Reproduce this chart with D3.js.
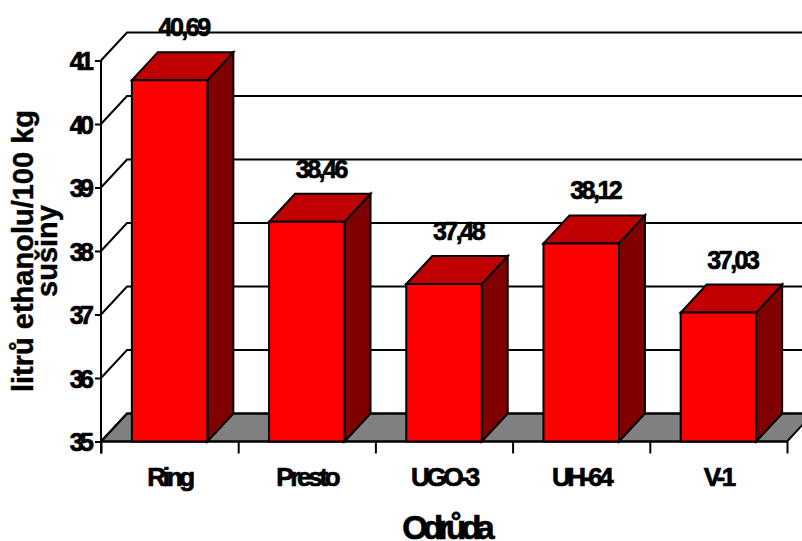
<!DOCTYPE html>
<html>
<head>
<meta charset="utf-8">
<script src="https://cdn.jsdelivr.net/npm/d3@7/dist/d3.min.js"></script>
<style>
html, body { margin: 0; padding: 0; background: #fff; }
svg { display: block; }
text { font-family: "Liberation Sans", Arial, sans-serif; font-weight: bold; fill: #000; }
</style>
</head>
<body>
<svg id="chart" width="802" height="541"></svg>
<script>
const categories = ["Ring", "Presto", "UGO-3", "UH-64", "V-1"];
const values = [40.69, 38.46, 37.48, 38.12, 37.03];
const valueTicks = [35, 36, 37, 38, 39, 40, 41];
const valueLabels = ["40,69", "38,46", "37,48", "38,12", "37,03"];

const left = 101, right = 787, bottom = 441.5, top41 = 60.5;
const depthX = 26, depthY = -28;
const heavy = 0.7;

const svg = d3.select("#chart");
const x = d3.scaleBand().domain(categories).range([left, right]).paddingInner(0.45).paddingOuter(0.225);
const y = d3.scaleLinear().domain([35, 41]).range([bottom, top41]);

const poly = pts => pts.map(p => p.join(",")).join(" ");

// Floor of the 3D plot box
svg.append("polygon")
  .attr("points", poly([[left, bottom], [right, bottom], [right + depthX, bottom + depthY], [left + depthX, bottom + depthY]]))
  .attr("fill", "#808080").attr("stroke", "#000").attr("stroke-width", 2);

// Gridlines: a diagonal on the side wall and a horizontal on the back wall
const grid = svg.append("g").attr("fill", "none").attr("stroke", "#000").attr("stroke-width", 2);
valueTicks.forEach(t => {
  grid.append("polyline")
    .attr("points", poly([[left, y(t)], [left + depthX, y(t) + depthY], [right + depthX, y(t) + depthY]]));
});

// Axes
const yAxis = d3.axisLeft(y).tickValues(valueTicks).tickSize(6).tickPadding(0).tickFormat(d3.format("d"));
const xAxis = d3.axisBottom(d3.scalePoint().domain(d3.range(6)).range([left, right])).tickSize(12).tickFormat("");

const gy = svg.append("g").attr("transform", `translate(${left},0)`).call(yAxis);
gy.selectAll("path, line").attr("stroke", "#000").attr("stroke-width", 2);
gy.select(".domain").attr("d", `M0,${top41}V${bottom + 12}`);
gy.selectAll("text")
  .attr("x", -10.5).attr("dy", "0.36em")
  .attr("font-size", 25).attr("letter-spacing", -3.5)
  .attr("font-family", "Liberation Sans").attr("font-weight", "bold")
  .attr("stroke", "#000").attr("stroke-width", heavy);

const gx = svg.append("g").attr("transform", `translate(0,${bottom})`).call(xAxis);
gx.selectAll("path, line").attr("stroke", "#000").attr("stroke-width", 2);
gx.select(".domain").attr("d", `M${left},0H${right}`);

// Category labels under the axis
svg.append("g").selectAll("text").data(categories).join("text")
  .attr("x", d => x(d) + x.bandwidth() / 2)
  .attr("y", 486)
  .attr("text-anchor", "middle")
  .attr("font-size", 26).attr("letter-spacing", -3.3)
  .attr("stroke", "#000").attr("stroke-width", heavy)
  .text(d => d);

// 3D bars: side face, top face, front face
const bars = svg.append("g").selectAll("g").data(categories).join("g");
const barFaces = [
  { fill: "#800000", pts: (a, b, t) => [[b, bottom], [b + depthX, bottom + depthY], [b + depthX, t + depthY], [b, t]] },
  { fill: "#c00000", pts: (a, b, t) => [[a, t], [a + depthX, t + depthY], [b + depthX, t + depthY], [b, t]] },
  { fill: "#ff0000", pts: (a, b, t) => [[a, t], [b, t], [b, bottom], [a, bottom]] }
];
barFaces.forEach(face => {
  bars.append("polygon")
    .attr("points", (d, i) => poly(face.pts(x(d), x(d) + x.bandwidth(), y(values[i]))))
    .attr("fill", face.fill)
    .attr("stroke", "#000").attr("stroke-width", 2).attr("stroke-linejoin", "miter");
});

// Value labels above the bars
svg.append("g").selectAll("text").data(categories).join("text")
  .attr("x", d => x(d) + x.bandwidth() / 2 + 14)
  .attr("y", (d, i) => y(values[i]) + depthY - 16)
  .attr("text-anchor", "middle")
  .attr("font-size", 25).attr("letter-spacing", -2.5)
  .attr("stroke", "#000").attr("stroke-width", heavy)
  .text((d, i) => valueLabels[i]);

// Axis titles
svg.append("text")
  .attr("x", 446).attr("y", 539)
  .attr("text-anchor", "middle")
  .attr("font-size", 33).attr("letter-spacing", -5)
  .attr("stroke", "#000").attr("stroke-width", heavy)
  .text("Odrůda");

const yTitle = svg.append("text")
  .attr("transform", "translate(33,251) rotate(-90)")
  .attr("text-anchor", "middle")
  .attr("font-size", 29)
  .attr("stroke", "#000").attr("stroke-width", 0.4);
yTitle.append("tspan").attr("x", 0).attr("y", 0).text("litrů ethanolu/100 kg");
yTitle.append("tspan").attr("x", 0).attr("y", 24).text("sušiny");
</script>
</body>
</html>
